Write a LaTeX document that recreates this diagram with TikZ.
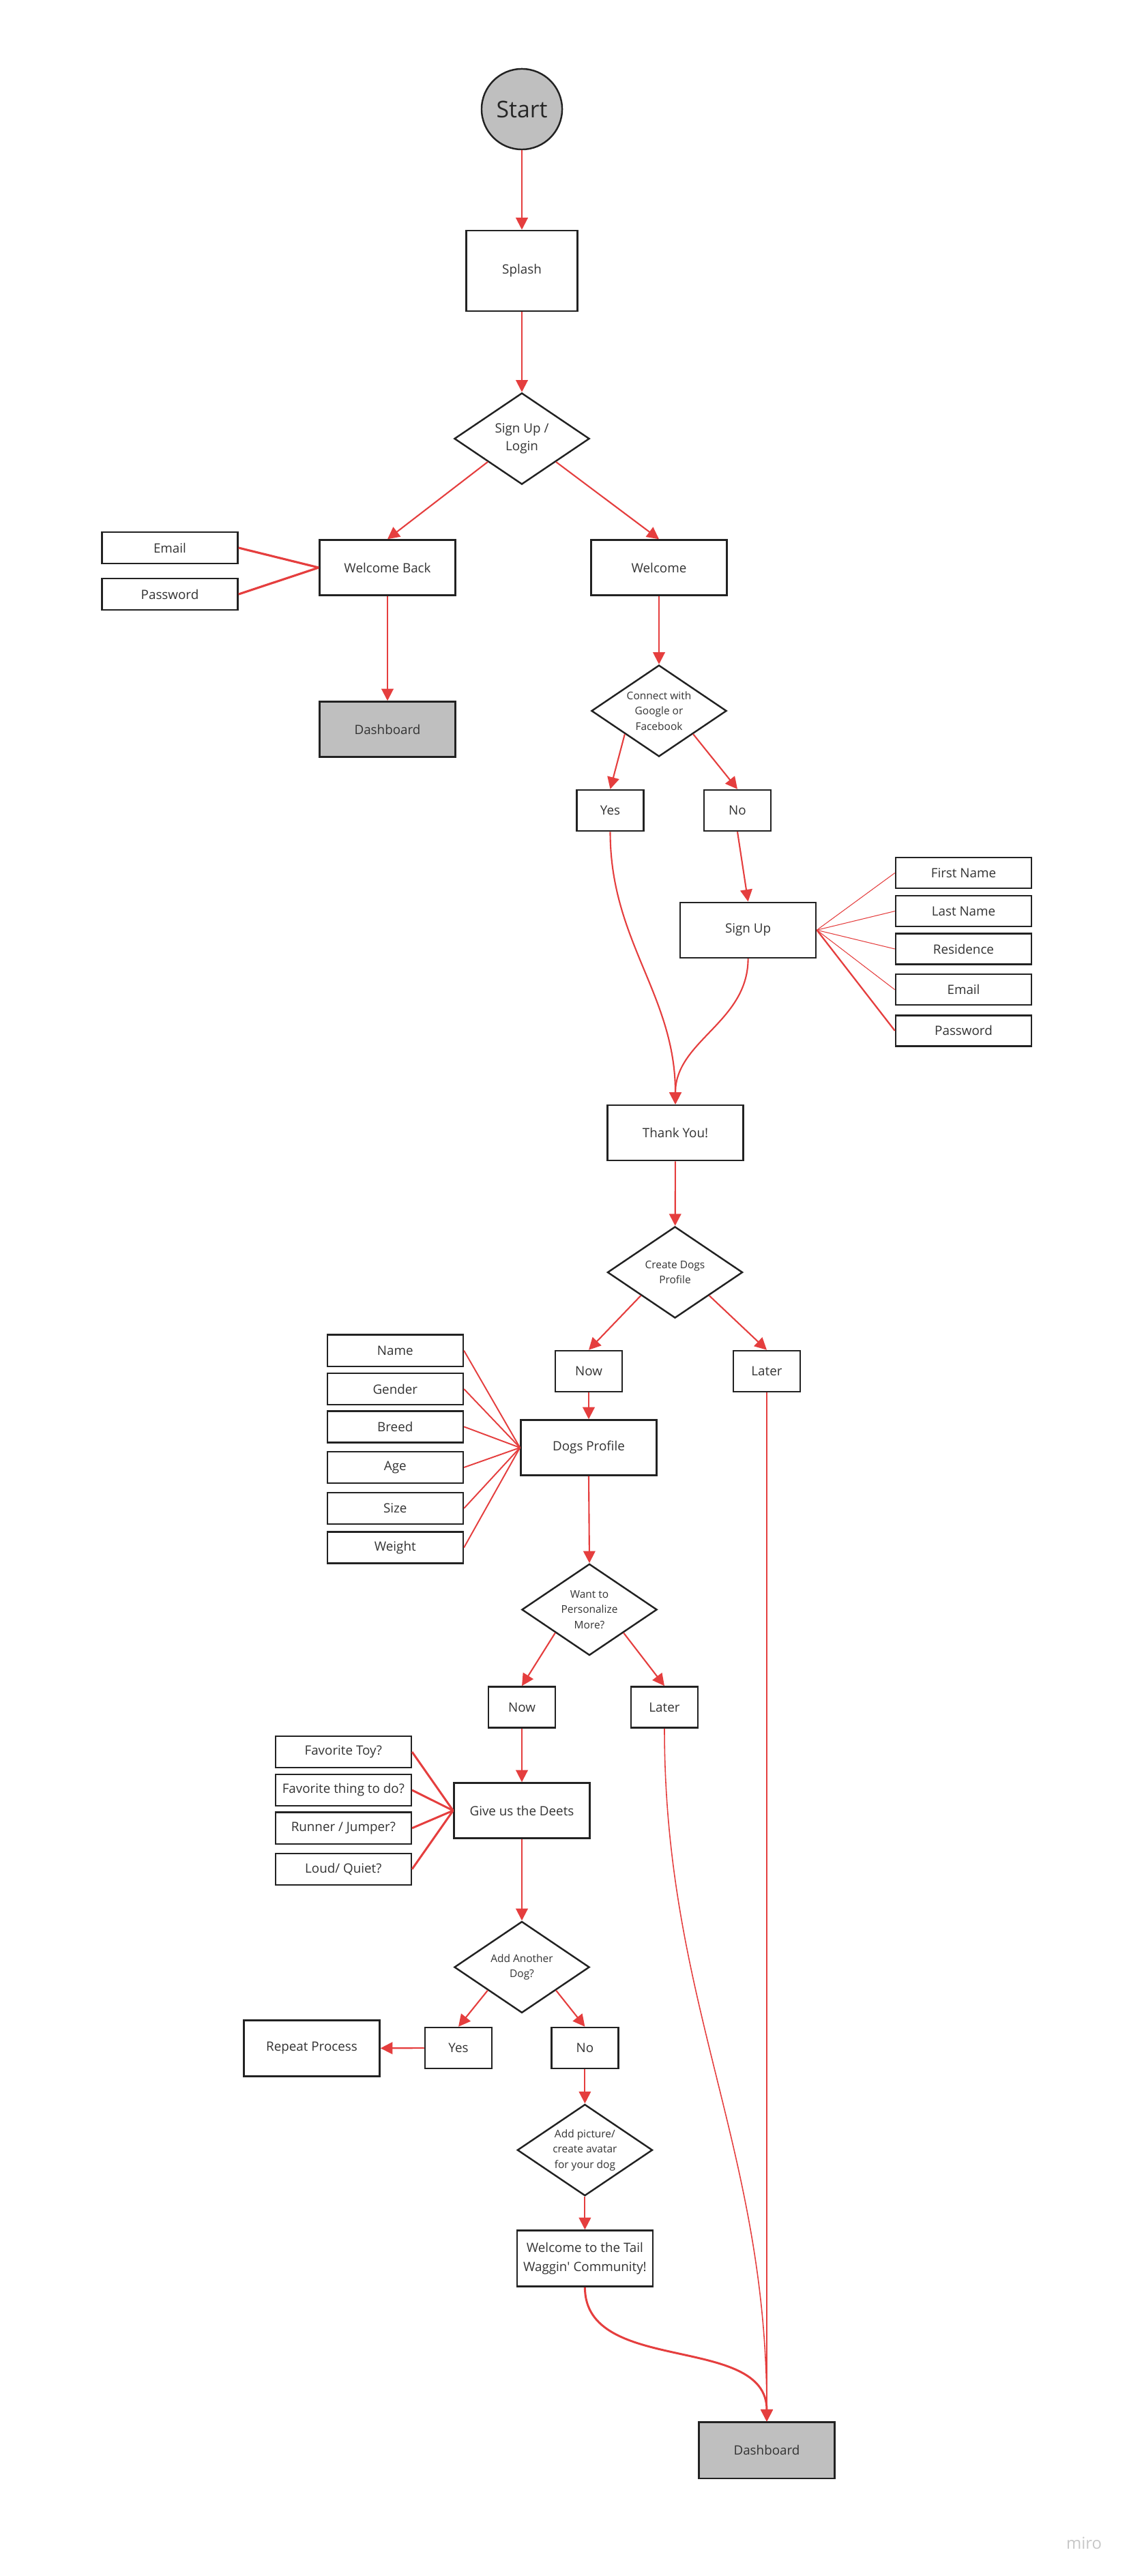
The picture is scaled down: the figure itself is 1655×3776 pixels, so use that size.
\documentclass[tikz,border=0pt]{standalone}
\usepackage{fontspec}
\setmainfont{Open Sans}
\usepackage{xcolor}
\usepackage{tikz}
\usetikzlibrary{shapes.geometric,arrows.meta}

\definecolor{flowred}{RGB}{229,62,62}
\definecolor{boxgray}{RGB}{191,191,191}
\definecolor{boxline}{RGB}{34,34,34}
\definecolor{labeltext}{RGB}{51,51,51}

\tikzset{
	box/.style={draw=boxline, line width=0.7pt, inner sep=0pt, align=center, text=labeltext,
		minimum width=1.99cm, minimum height=0.81cm, font=\fontsize{5.35}{7.9}\selectfont},
	field/.style={box, minimum height=0.46cm},
	choice/.style={box, minimum width=0.98cm, minimum height=0.6cm},
	greybox/.style={box, fill=boxgray},
	decision/.style={diamond, draw=boxline, line width=0.7pt, inner sep=0pt, aspect=1.5, align=center,
		text=labeltext, minimum width=1.98cm, minimum height=1.34cm, font=\fontsize{4.4}{6.4}\selectfont},
	flow/.style={draw=flowred, line width=0.6pt, -{Triangle[length=5pt,width=5pt]}},
	link/.style={draw=flowred, line width=0.55pt},
}

\begin{document}
\begin{tikzpicture}[x=0.01cm,y=-0.01cm]
			\fill[white] (0,0) rectangle (1655,3776);
			\useasboundingbox (0,0) rectangle (1655,3776);

			\node[circle, draw=boxline, line width=0.7pt, fill=boxgray, minimum size=1.18cm, inner sep=0pt,
				text=black!85, font=\fontsize{9.6}{11}\selectfont](start) at (765,160) {Start};
			\node[box, minimum width=1.63cm, minimum height=1.18cm](splash) at (765,397) {Splash};
			\node[decision, font=\fontsize{5.35}{7.4}\selectfont](login) at (765,643) {Sign Up /\\Login};

			\node[box](welcomeback) at (568,832) {Welcome Back};
			\node[field](email1) at (249,803) {Email};
			\node[field](password1) at (249,871) {Password};
			\node[greybox](dashboard1) at (568,1069) {Dashboard};

			\node[box](welcome) at (966,832) {Welcome};
			\node[decision](connect) at (966,1042) {Connect with\\Google or\\Facebook};
			\node[choice](yes1) at (894.5,1188) {Yes};
			\node[choice](no1) at (1081,1188) {No};
			\node[box](signupform) at (1096.6,1363.3) {Sign Up};
			\node[field, minimum height=0.45cm](firstname) at (1412.5,1279.6) {First Name};
			\node[field, minimum height=0.45cm](lastname) at (1412.5,1335.6) {Last Name};
			\node[field, minimum height=0.45cm](residence) at (1412.5,1391) {Residence};
			\node[field, minimum height=0.45cm](email2) at (1412.5,1450.7) {Email};
			\node[field, minimum height=0.45cm](password2) at (1412.5,1510.8) {Password};

			\node[box](thanks) at (990,1660.5) {Thank You!};
			\node[decision](createdogs) at (989.5,1865) {Create Dogs\\Profile};
			\node[choice](now1) at (863,2010) {Now};
			\node[choice](later1) at (1124,2010) {Later};
			\node[box](dogsprofile) at (863,2122) {Dogs Profile};
			\node[field](name) at (579.3,1979.7) {Name};
			\node[field](gender) at (579.3,2036) {Gender};
			\node[field](breed) at (579.3,2091.3) {Breed};
			\node[field](age) at (579.3,2151) {Age};
			\node[field](size) at (579.3,2211) {Size};
			\node[field](weight) at (579.3,2268.5) {Weight};

			\node[decision](personalize) at (864,2359.4) {Want to\\Personalize\\More?};
			\node[choice](now2) at (765,2502.5) {Now};
			\node[choice](later2) at (974,2502.5) {Later};
			\node[box](deets) at (765,2654) {Give us the Deets};
			\node[field](favtoy) at (503.3,2568) {Favorite Toy?};
			\node[field](favthing) at (503.3,2624) {Favorite thing to do?};
			\node[field](runner) at (503.3,2679.7) {Runner / Jumper?};
			\node[field](loud) at (503.3,2739.8) {Loud/ Quiet?};

			\node[decision](another) at (765,2883.5) {Add Another\\Dog?};
			\node[choice](yes2) at (672,3002) {Yes};
			\node[choice](no2) at (857.4,3002) {No};
			\node[box, minimum height=0.82cm](repeat) at (457,3002.5) {Repeat Process};
			\node[decision](picture) at (857.4,3151.6) {Add picture/\\create avatar\\for your dog};
			\node[box, minimum height=0.82cm](tailwaggin) at (857.4,3310.5) {Welcome to the Tail\\Waggin\textquotesingle{} Community!};
			\node[greybox, minimum height=0.82cm](dashboard2) at (1124,3591.7) {Dashboard};

			\node[text=black!22, font=\fontsize{6.8}{8}\selectfont](miro) at (1589,3728) {miro};

			\draw[flow] (start) -- (splash);
			\draw[flow] (splash) -- (login);
			\draw[flow] (login.south west) -- (welcomeback.north);
			\draw[flow] (login.south east) -- (welcome.north);
			\draw[link, line width=0.9pt] (email1.east) -- (welcomeback.west);
			\draw[link, line width=0.9pt] (password1.east) -- (welcomeback.west);
			\draw[flow] (welcomeback) -- (dashboard1);

			\draw[flow] (welcome) -- (connect);
			\draw[flow] (connect.south west) -- (yes1.north);
			\draw[flow] (connect.south east) -- (no1.north);
			\draw[flow] (no1.south) -- (signupform.north);
			\foreach \f/\w in {firstname/0.3pt, lastname/0.3pt, residence/0.3pt, email2/0.3pt, password2/0.65pt}
				\draw[link, line width=\w] (signupform.east) -- (\f.west);
			\draw[flow] (yes1.south) to[out=-90, in=90] (thanks.north);
			\draw[flow] (signupform.south) to[out=-90, in=90] (thanks.north);

			\draw[flow] (thanks) -- (createdogs);
			\draw[flow] (createdogs.south west) -- (now1.north);
			\draw[flow] (createdogs.south east) -- (later1.north);
			\draw[flow] (now1) -- (dogsprofile);
			\foreach \f in {name, gender, breed, age, size, weight}
				\draw[link] (\f.east) -- (dogsprofile.west);
			\draw[flow] (dogsprofile.south) -- (personalize.north);
			\draw[flow, line width=0.45pt] (later1.south) -- (dashboard2.north);

			\draw[flow] (personalize.south west) -- (now2.north);
			\draw[flow] (personalize.south east) -- (later2.north);
			\draw[flow] (now2) -- (deets);
			\foreach \f in {favtoy, favthing, runner, loud}
				\draw[link, line width=0.85pt] (\f.east) -- (deets.west);
			\draw[flow] (deets) -- (another);
			\draw[flow, line width=0.45pt] (later2.south) to[out=-90, in=90] (dashboard2.north);

			\draw[flow] (another.south west) -- (yes2.north);
			\draw[flow] (another.south east) -- (no2.north);
			\draw[flow] (yes2) -- (repeat);
			\draw[flow] (no2) -- (picture);
			\draw[flow] (picture) -- (tailwaggin);
			\draw[flow, line width=0.85pt] (tailwaggin.south) to[out=-90, in=90] (dashboard2.north);
		\end{tikzpicture}
\end{document}
